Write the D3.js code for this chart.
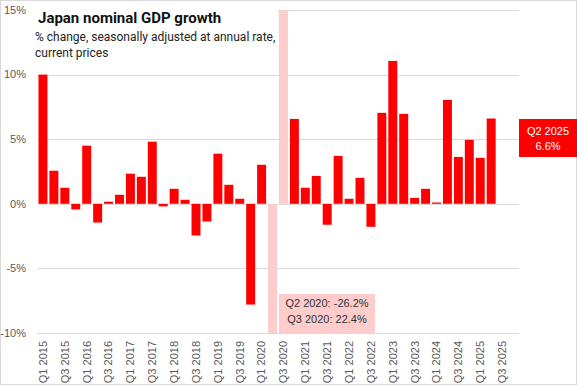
<!DOCTYPE html>
<html><head><meta charset="utf-8">
<script src="https://cdn.jsdelivr.net/npm/d3@7"></script>
<style>body{margin:0;background:#fff}svg{display:block}</style>
</head><body>
<svg id="c" width="577" height="385"></svg>
<script>
const quarters = [];
for (let y = 2015; y <= 2025; y++) for (let q = 1; q <= 4; q++) quarters.push("Q" + q + " " + y);
const growth = [10.0, 2.56, 1.24, -0.44, 4.5, -1.45, 0.16, 0.7, 2.33, 2.09, 4.81, -0.2,
  1.16, 0.31, -2.45, -1.37, 3.88, 1.47, 0.39, -7.8, 3.02, -26.2, 22.4, 6.57,
  1.24, 2.16, -1.62, 3.71, 0.39, 2.01, -1.78, 7.04, 11.06, 6.96, 0.46, 1.16,
  0.1, 8.04, 3.63, 4.95, 3.56, 6.6, null, null];
const outliers = ["Q2 2020", "Q3 2020"];
const yTicks = [-10, -5, 0, 5, 10, 15];
const xLabels = quarters.filter((d, i) => i % 2 === 0);

const svg = d3.select("#c");
svg.append("rect").attr("x", 0.5).attr("y", 0.5).attr("width", 576).attr("height", 384)
  .attr("fill", "#fff").attr("stroke", "#d9d9d9");

const x = d3.scaleBand().domain(quarters).range([37.5, 518.5]).paddingInner(0.18).paddingOuter(0.09);
const y = d3.scaleLinear().domain([-10, 15]).range([333, 10]);

// gridlines
svg.append("g").selectAll("line").data(yTicks).join("line")
  .attr("x1", 37.5).attr("x2", 518.5)
  .attr("y1", d => Math.round(y(d)) + 0.5).attr("y2", d => Math.round(y(d)) + 0.5)
  .attr("stroke", "#d9d9d9").attr("stroke-width", 1);

// y labels
svg.append("g").selectAll("text").data(yTicks).join("text")
  .attr("x", 26).attr("y", d => y(d)).attr("dy", "0.35em")
  .attr("text-anchor", "end").attr("font-family", "Liberation Sans, Arial, sans-serif")
  .attr("font-size", 11).attr("fill", "#595959").text(d => d + "%");

// bars
const data = quarters.map((q, i) => ({q, v: growth[i]})).filter(d => d.v !== null);
svg.append("g").selectAll("rect").data(data).join("rect")
  .attr("x", d => x(d.q)).attr("width", x.bandwidth())
  .attr("y", d => y(Math.min(15, Math.max(0, d.v))))
  .attr("height", d => Math.abs(y(Math.min(15, Math.max(-10, d.v))) - y(0)))
  .attr("fill", d => outliers.includes(d.q) ? "#ffcccc" : "#ff0000");

// x labels
svg.append("g").selectAll("text").data(xLabels).join("text")
  .attr("transform", d => `translate(${x(d) + x.bandwidth() / 2},341) rotate(-90)`)
  .attr("dy", "0.35em").attr("text-anchor", "end")
  .attr("font-family", "Liberation Sans, Arial, sans-serif")
  .attr("font-size", 11).attr("fill", "#595959").text(d => d);

// title block
svg.append("rect").attr("x", 34).attr("y", 4).attr("width", 244).attr("height", 62).attr("fill", "#fff");
svg.append("text").attr("x", 38).attr("y", 23).attr("font-family", "Roboto, sans-serif")
  .attr("font-weight", "bold").attr("font-size", 15).attr("fill", "#111").text("Japan nominal GDP growth");
const sub = svg.append("text").attr("font-family", "Roboto, sans-serif").attr("font-size", 12).attr("fill", "#222");
sub.append("tspan").attr("x", 35).attr("y", 41).text("% change, seasonally adjusted at annual rate,");
sub.append("tspan").attr("x", 35).attr("y", 57).text("current prices");

// outlier annotation
const ob = svg.append("g");
ob.append("rect").attr("x", 279).attr("y", 294).attr("width", 96).attr("height", 39).attr("fill", "#ffcccc");
const ot = ob.append("text").attr("font-family", "Liberation Sans, Arial, sans-serif").attr("font-size", 11)
  .attr("fill", "#333").attr("text-anchor", "middle");
ot.append("tspan").attr("x", 327).attr("y", 307).text(`${outliers[0]}: ${growth[quarters.indexOf(outliers[0])]}%`);
ot.append("tspan").attr("x", 327).attr("y", 323).text(`${outliers[1]}: ${growth[quarters.indexOf(outliers[1])]}%`);

// latest label
const li = 41;
const lb = svg.append("g");
lb.append("rect").attr("x", 519).attr("y", 119).attr("width", 58).attr("height", 38).attr("fill", "#ff0000");
const lt = lb.append("text").attr("font-family", "Liberation Sans, Arial, sans-serif").attr("font-size", 11)
  .attr("fill", "#fff").attr("text-anchor", "middle");
lt.append("tspan").attr("x", 548).attr("y", 135).text(quarters[li]);
lt.append("tspan").attr("x", 548).attr("y", 150).text(growth[li].toFixed(1) + "%");
</script>
</body></html>
